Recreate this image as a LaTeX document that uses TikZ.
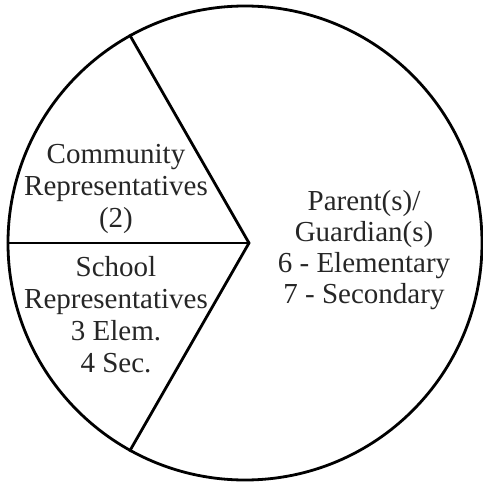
\documentclass[tikz,border=0pt]{standalone}
\usepackage{fontspec}
\setmainfont{Liberation Serif}
\begin{document}
\begin{tikzpicture}[x=1pt,y=-1pt,
  edge/.style={line width=2.8pt},
  lbl/.style={align=center,inner sep=0pt,font=\fontsize{29}{32}\selectfont,text=black!85}]
\useasboundingbox (0,0) rectangle (483,482);
\node[circle,draw,line width=2.8pt,minimum size=474pt,inner sep=0pt] (c) at (245,243) {};
\coordinate (v) at (249,243);
\draw[edge] (c.180) -- (v);
\draw[edge] (c.119) -- (v) -- (c.241);
\node[lbl] (comm) at (116,189) {Community\\Representatives\\(2)};
\node[lbl] (school) at (116,315) {School\\Representatives\\3 Elem.\\4 Sec.};
\node[lbl,font=\fontsize{29}{31}\selectfont] (par) at (364,250) {Parent(s)/\\Guardian(s)\\6 - Elementary\\7 - Secondary};
\end{tikzpicture}
\end{document}
